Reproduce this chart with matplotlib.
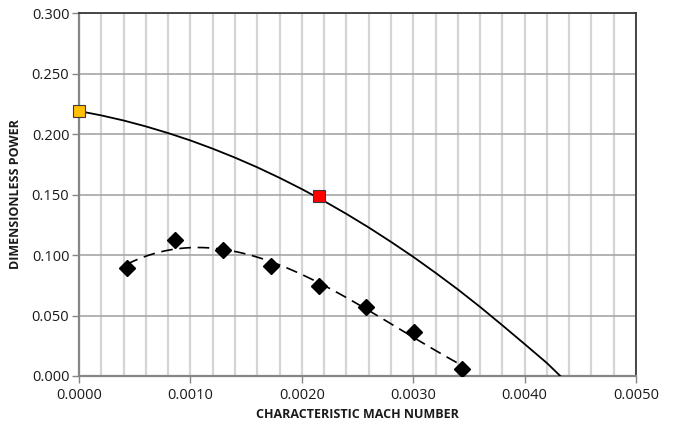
import numpy as np
import matplotlib
matplotlib.use("Agg")
import matplotlib.pyplot as plt
from matplotlib.ticker import MultipleLocator, FormatStrFormatter

plt.rcParams['font.family'] = ['Open Sans', 'DejaVu Sans']

# ---------------------
# Data
# ---------------------
# measured points
mach_meas = [0.00043, 0.00086, 0.00129, 0.00172, 0.00215, 0.00258, 0.00301, 0.00344]
power_meas = [0.089, 0.112, 0.104, 0.091, 0.074, 0.057, 0.036, 0.006]

# theoretical curve
mach_theory = [0.0, 0.0002, 0.0004, 0.0006, 0.0008, 0.0010, 0.0012, 0.0014,
               0.0016, 0.0018, 0.0020, 0.0022, 0.0024, 0.0026, 0.0028, 0.0030,
               0.0032, 0.0034, 0.0036, 0.0038, 0.0040, 0.0042, 0.00432]
power_theory = [0.219, 0.2154, 0.2112, 0.2063, 0.2008, 0.1947, 0.1879, 0.1805,
                0.1725, 0.1638, 0.1545, 0.1446, 0.1340, 0.1228, 0.1109, 0.0985,
                0.0853, 0.0716, 0.0571, 0.0419, 0.0264, 0.0107, 0.0]

# highlighted points on the curve
start_pt = (0.0, 0.219)
design_pt = (0.00215, 0.149)

# ---------------------
# Figure
# ---------------------
fig = plt.figure(figsize=(6.81, 4.25), dpi=100)
ax = fig.add_axes([0.116, 0.1153, 0.818, 0.854])

ax.set_xlim(0, 0.005)
ax.set_ylim(0, 0.300)
ax.xaxis.set_major_locator(MultipleLocator(0.001))
ax.xaxis.set_minor_locator(MultipleLocator(0.0002))
ax.yaxis.set_major_locator(MultipleLocator(0.05))
ax.xaxis.set_major_formatter(FormatStrFormatter('%.4f'))
ax.yaxis.set_major_formatter(FormatStrFormatter('%.3f'))

ax.grid(which='minor', axis='x', color='#d4d4d4', lw=1.6)
ax.grid(which='major', axis='x', color='#d4d4d4', lw=1.6)
ax.grid(which='major', axis='y', color='#a6a6a6', lw=1.2)
ax.set_axisbelow(True)

ax.tick_params(which='major', length=5, width=1, color='#868686',
               labelsize=10.5, labelcolor='#1a1a1a')
ax.tick_params(axis='y', pad=2)
ax.tick_params(axis='x', pad=4)
ax.tick_params(which='minor', length=0)
for side in ('left', 'bottom'):
    ax.spines[side].set_color('#868686')
    ax.spines[side].set_linewidth(1.6)
for side in ('top', 'right'):
    ax.spines[side].set_color('#3a3a3a')
    ax.spines[side].set_linewidth(1.3)

# theory curve
ax.plot(mach_theory, power_theory, color='black', lw=1.3, zorder=3)

# cubic trend line through measured points
coef = np.polyfit(mach_meas, power_meas, 3)
xt = np.linspace(mach_meas[0], mach_meas[-1], 100)
ax.plot(xt, np.polyval(coef, xt), color='black', lw=1.2, ls=(0, (7, 4)), zorder=3)

ax.plot(mach_meas, power_meas, ls='none', marker='D', ms=8, color='black', zorder=4)

ax.plot(*start_pt, marker='s', ms=9, mfc='#ffc000', mec='#3a3a3a', mew=0.8,
        clip_on=False, zorder=5)
ax.plot(*design_pt, marker='s', ms=9, mfc='#ff0000', mec='#3a3a3a', mew=0.8,
        zorder=5)

ax.set_xlabel('CHARACTERISTIC MACH NUMBER', fontsize=9, fontweight='bold',
              labelpad=3, color='#1a1a1a')
ax.set_ylabel('DIMENSIONLESS POWER', fontsize=9, fontweight='bold',
              labelpad=7, color='#1a1a1a')

fig.savefig('out.png', dpi=100)
